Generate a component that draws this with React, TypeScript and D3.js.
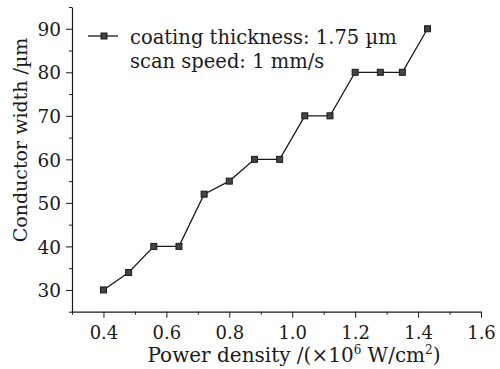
import * as d3 from "d3";
import { useEffect, useRef } from "react";

// power density (x10^6 W/cm2) and conductor width (µm)
const powerDensity = [0.4, 0.48, 0.56, 0.64, 0.72, 0.8, 0.88, 0.96, 1.04, 1.12, 1.2, 1.28, 1.35, 1.43];
const conductorWidth = [30, 34, 40, 40, 52, 55, 60, 60, 70, 70, 80, 80, 80, 90];
const xMajorTicks = [0.4, 0.6, 0.8, 1.0, 1.2, 1.4, 1.6];
const xMinorTicks = [0.3, 0.5, 0.7, 0.9, 1.1, 1.3, 1.5];
const yMajorTicks = [30, 40, 50, 60, 70, 80, 90];
const yMinorTicks = [25, 35, 45, 55, 65, 75, 85, 95];
const legendLines = ["coating thickness: 1.75 µm", "scan speed: 1 mm/s"];

const FONT = "'DejaVu Serif', 'Liberation Serif', serif";
const INK = "#1a1a1a";

const App = () => {
    const svgRef = useRef<SVGSVGElement | null>(null);

    useEffect(() => {
        const svg = d3.select(svgRef.current);
        svg.selectAll("*").remove();

        const x = d3.scaleLinear().domain([0.3, 1.6]).range([72, 481]);
        const y = d3.scaleLinear().domain([25, 95]).range([311.7, 7]);

        // axes with major + minor ticks
        const drawAxis = (g: d3.Selection<SVGGElement, unknown, null, undefined>) => {
            g.selectAll("path").attr("stroke", INK).attr("stroke-width", 1.2);
            g.selectAll("line").attr("stroke", INK).attr("stroke-width", 1);
        };

        const xAxis = svg.append("g").attr("transform", `translate(0, ${y(25)})`);
        xAxis.call(d3.axisBottom(x).tickValues(xMajorTicks).tickSize(6).tickSizeOuter(0).tickFormat(d3.format(".1f")));
        drawAxis(xAxis);
        xAxis.selectAll("text")
            .attr("font-family", FONT)
            .attr("font-size", 18)
            .attr("fill", INK)
            .attr("dy", "1.0em");

        const xMinor = svg.append("g").attr("transform", `translate(0, ${y(25)})`);
        xMinor.call(d3.axisBottom(x).tickValues(xMinorTicks).tickSize(3).tickSizeOuter(0).tickFormat(() => ""));
        xMinor.select("path").remove();
        drawAxis(xMinor);

        const yAxis = svg.append("g").attr("transform", `translate(${x(0.3)}, 0)`);
        yAxis.call(d3.axisLeft(y).tickValues(yMajorTicks).tickSize(6).tickSizeOuter(0));
        drawAxis(yAxis);
        yAxis.selectAll("text")
            .attr("font-family", FONT)
            .attr("font-size", 18.5)
            .attr("fill", INK)
            .attr("x", -11)
            .attr("dy", "0.36em");

        const yMinor = svg.append("g").attr("transform", `translate(${x(0.3)}, 0)`);
        yMinor.call(d3.axisLeft(y).tickValues(yMinorTicks).tickSize(3).tickSizeOuter(0).tickFormat(() => ""));
        yMinor.select("path").remove();
        drawAxis(yMinor);

        // data line
        const pts = powerDensity.map((p, i) => [p, conductorWidth[i]] as [number, number]);
        const line = d3.line<[number, number]>().x((d) => x(d[0])).y((d) => y(d[1]));
        svg.append("path")
            .attr("d", line(pts))
            .attr("fill", "none")
            .attr("stroke", INK)
            .attr("stroke-width", 1.3);

        svg.selectAll("rect.pt")
            .data(pts)
            .join("rect")
            .attr("class", "pt")
            .attr("x", (d) => x(d[0]) - 3)
            .attr("y", (d) => y(d[1]) - 3)
            .attr("width", 6)
            .attr("height", 6)
            .attr("fill", "#444")
            .attr("stroke", INK)
            .attr("stroke-width", 1);

        // legend
        svg.append("line")
            .attr("x1", 88).attr("x2", 118)
            .attr("y1", 36).attr("y2", 36)
            .attr("stroke", INK).attr("stroke-width", 1.3);
        svg.append("rect")
            .attr("x", 101).attr("y", 33).attr("width", 6).attr("height", 6)
            .attr("fill", "#444").attr("stroke", INK);
        svg.selectAll("text.legend")
            .data(legendLines)
            .join("text")
            .attr("class", "legend")
            .attr("x", 130)
            .attr("y", (_, i) => 44 + i * 24)
            .attr("font-family", FONT)
            .attr("font-size", 19.5)
            .attr("fill", INK)
            .text((d) => d);

        // axis titles
        const xt = svg.append("text")
            .attr("x", 294).attr("y", 362)
            .attr("text-anchor", "middle")
            .attr("font-family", FONT)
            .attr("font-size", 20)
            .attr("fill", INK);
        xt.append("tspan").text("Power density /(×10");
        xt.append("tspan").attr("font-size", 12).attr("dy", -8).text("6");
        xt.append("tspan").attr("dy", 8).text(" W/cm");
        xt.append("tspan").attr("font-size", 12).attr("dy", -8).text("2");
        xt.append("tspan").attr("dy", 8).text(")");

        svg.append("text")
            .attr("transform", `translate(27, 140) rotate(-90)`)
            .attr("text-anchor", "middle")
            .attr("font-family", FONT)
            .attr("font-size", 19)
            .attr("fill", INK)
            .text("Conductor width /µm");
    }, []);

    return (
        <svg ref={svgRef} width={500} height={369}
            style={{ position: "absolute", left: 0, top: 0, background: "#fff" }} />
    );
};

export default App;
